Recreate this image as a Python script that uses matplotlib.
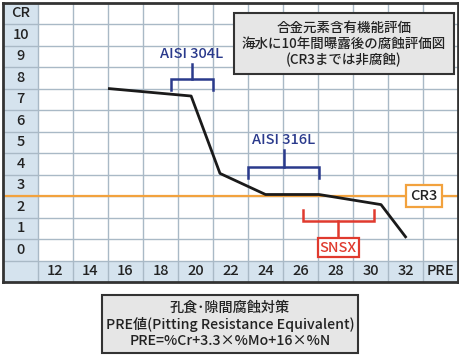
import matplotlib
matplotlib.use("Agg")
import matplotlib.pyplot as plt
from matplotlib.patches import Rectangle

plt.rcParams['font.family'] = ['Noto Sans CJK JP', 'DejaVu Sans']
plt.rcParams['font.weight'] = 'medium'

# ---- data ----
pre_values = [15.0, 19.75, 21.4, 24.0, 27.05, 30.6, 32.05]
cr_values = [8.0, 7.65, 4.05, 3.07, 3.07, 2.6, 1.05]

x_tick_values = [12, 14, 16, 18, 20, 22, 24, 26, 28, 30, 32]
x_tick_labels = ['12', '14', '16', '18', '20', '22', '24', '26', '28', '30', '32']
y_tick_values = [0, 1, 2, 3, 4, 5, 6, 7, 8, 9, 10]
y_tick_labels = ['0', '1', '2', '3', '4', '5', '6', '7', '8', '9', '10']

cr_threshold = 3

aisi304_range = [18.58, 21.02]
aisi316_range = [23.02, 27.07]
snsx_range = [26.13, 30.2]

title_lines = ['合金元素含有機能評価', '海水に10年間曝露後の腐蝕評価図', '(CR3までは非腐蝕)']
note_lines = ['孔食･隙間腐蝕対策', 'PRE値(Pitting Resistance Equivalent)', 'PRE=%Cr+3.3×%Mo+16×%N']

# ---- figure ----
W, H = 460, 355
fig = plt.figure(figsize=(W / 100, H / 100), dpi=100)
ax = fig.add_axes([3 / W, (H - 282) / H, 455 / W, 279.5 / H])
ax.set_xlim(9, 35)
ax.set_ylim(-1, 12)
ax.set_xticks([])
ax.set_yticks([])
for s in ax.spines.values():
    s.set_color('#333333')
    s.set_linewidth(2)

label_bg = '#d5e3ee'
grid_c = '#a9b9c6'
ax.add_patch(Rectangle((9, -1), 2, 13, facecolor=label_bg, edgecolor='none', zorder=0))
ax.add_patch(Rectangle((9, -1), 26, 1, facecolor=label_bg, edgecolor='none', zorder=0))

for gx in range(11, 35, 2):
    ax.plot([gx, gx], [-1, 12], color=grid_c, lw=1, zorder=1)
for gy in range(0, 12):
    ax.plot([9, 35], [gy, gy], color=grid_c, lw=1, zorder=1)

tick_fs = 10.5
for v, lab in zip(y_tick_values, y_tick_labels):
    ax.text(10, v + 0.5, lab, ha='center', va='center', fontsize=tick_fs, color='#222222')
ax.text(10, 11.5, 'CR', ha='center', va='center', fontsize=tick_fs, color='#222222')
for v, lab in zip(x_tick_values, x_tick_labels):
    ax.text(v, -0.5, lab, ha='center', va='center', fontsize=tick_fs, color='#222222')
ax.text(34, -0.5, 'PRE', ha='center', va='center', fontsize=tick_fs, color='#222222')

# CR3 line
orange = '#f2a23e'
ax.plot([9, 35], [cr_threshold, cr_threshold], color=orange, lw=1.6, zorder=2)
ax.text(33.05, cr_threshold, 'CR3', ha='center', va='center', fontsize=10.5, color='#222222', zorder=5,
        bbox=dict(boxstyle='square,pad=0.3', facecolor='white', edgecolor=orange, lw=1.6))

# curve
ax.plot(pre_values, cr_values, color='#1a1a1a', lw=2.0, zorder=4, solid_capstyle='butt')

navy = '#2a3a8c'
red = '#e03a2e'

def bracket(x0, x1, ybar, ytip, ystem, color):
    xm = (x0 + x1) / 2
    ax.plot([x0, x0, x1, x1], [ytip, ybar, ybar, ytip], color=color, lw=1.8, zorder=4,
            solid_joinstyle='miter')
    ax.plot([xm, xm], [ybar, ystem], color=color, lw=1.8, zorder=4)
    return xm

xm = bracket(aisi304_range[0], aisi304_range[1], 8.42, 7.91, 9.16, navy)
ax.text(xm, 9.6, 'AISI 304L', ha='center', va='center', fontsize=10.5, color=navy, zorder=5)
xm = bracket(aisi316_range[0], aisi316_range[1], 4.34, 3.85, 5.15, navy)
ax.text(xm, 5.6, 'AISI 316L', ha='center', va='center', fontsize=10.5, color=navy, zorder=5)
xm = bracket(snsx_range[0], snsx_range[1], 1.83, 2.36, 1.0, red)
ax.text(xm, 0.6, 'SNSX', ha='center', va='center', fontsize=10.5, color=red, zorder=5,
        bbox=dict(boxstyle='square,pad=0.15', facecolor='white', edgecolor=red, lw=1.6))

# title box
ax.add_patch(Rectangle((22.2, 8.68), 12.57, 2.85, facecolor='#e6e6e6', edgecolor='#333333',
                       lw=1.5, zorder=6))
ax.text(28.49, 10.07, '\n'.join(title_lines), ha='center', va='center', fontsize=9.7,
        color='#222222', zorder=7, linespacing=1.2)

# bottom note box
fig.patches.append(Rectangle((102 / W, (H - 353) / H), 256 / W, 58 / H, transform=fig.transFigure,
                             facecolor='#e6e6e6', edgecolor='#333333', lw=1.5))
fig.text(230 / W, (H - 324.5) / H, '\n'.join(note_lines), ha='center', va='center', fontsize=10.2,
         color='#222222', linespacing=1.15)

fig.savefig('out.png', dpi=100)
